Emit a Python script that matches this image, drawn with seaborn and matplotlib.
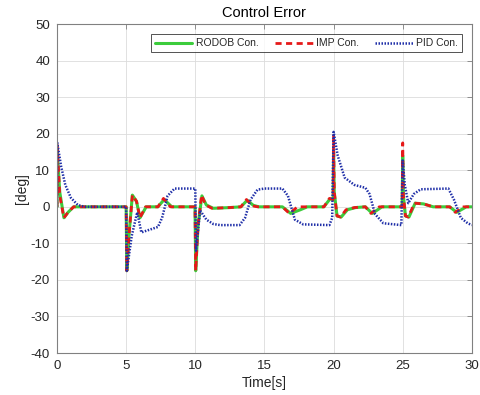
import matplotlib
matplotlib.use("Agg")
import matplotlib.pyplot as plt
import seaborn as sns
import pandas as pd

# ---- data ----
t_rodob = [0, 0.02, 0.2, 0.5, 0.8, 1.2, 5.0, 5.05, 5.2, 5.45, 5.75, 6.0, 6.45, 7.3, 7.75, 8.3,
           9.98, 10.03, 10.2, 10.48, 10.8, 11.3, 12.5, 13.3, 13.75, 14.2, 14.6,
           16.3, 16.9, 17.6, 18.1, 19.3, 19.75, 19.97, 20.0, 20.05, 20.25, 20.55, 21.0, 21.6,
           22.3, 22.8, 23.5, 24.96, 25.0, 25.05, 25.2, 25.45, 25.9, 26.5, 27.2, 28.4, 28.9, 29.6, 30.0]
v_rodob = [0, 15, 4, -3, -1.5, 0, 0, -17.5, -8, 3.2, 1.5, -3, 0, 0, 2.0, 0,
           0, -17.5, -5, 3.0, 0.5, -0.4, -0.2, 0, 1.8, 0.4, 0,
           0, -1.8, -0.8, 0, 0, 2.2, 2.0, 15, 4, -2.5, -2.8, -0.8, -0.2,
           0, -1.8, 0, 0, 14, 3, -2.5, -2.8, 1.0, 0.8, 0, 0, -1.5, 0, 0]

t_imp = [0, 0.02, 0.2, 0.5, 0.8, 1.2, 5.0, 5.05, 5.2, 5.45, 5.75, 6.0, 6.4, 7.3, 7.7, 8.2,
         9.98, 10.03, 10.2, 10.45, 10.75, 11.2, 12.5, 13.3, 13.7, 14.1, 14.5,
         16.3, 16.8, 17.4, 19.3, 19.7, 19.97, 20.0, 20.05, 20.25, 20.5, 20.9, 21.5,
         22.3, 22.7, 23.3, 24.96, 25.0, 25.05, 25.2, 25.4, 25.85, 26.5, 27.2, 28.4, 28.8, 29.4, 30.0]
v_imp = [0, 17.2, 3, -3, -1.5, 0, 0, -17.5, -8, 3.2, 1.5, -3, 0, 0, 2.3, 0,
         0, -17.5, -5, 3.2, 0.5, -0.4, -0.2, 0, 2.0, 0.3, 0,
         0, -1.8, 0, 0, 2.3, 2.0, 19.5, 4, -2.5, -2.8, -0.8, -0.2,
         0, -1.8, 0, 0, 17.5, 3, -2.5, -2.8, 1.0, 0.8, 0, 0, -1.5, 0, 0]

t_pid = [0, 0.02, 0.3, 0.6, 1.0, 1.5, 2.0, 5.0, 5.05, 5.4, 5.8, 6.1, 6.5, 7.3, 7.6, 8.0, 8.5, 9.9,
         10.0, 10.05, 10.35, 10.8, 11.3, 11.8, 13.2, 13.6, 14.0, 14.5, 15.0, 16.3, 16.7, 17.2, 17.8,
         19.7, 19.9, 20.0, 20.3, 20.8, 21.5, 22.3, 22.6, 23.0, 23.6, 24.9,
         25.0, 25.15, 25.4, 25.8, 26.3, 28.3, 28.7, 29.2, 29.7, 30.0]
v_pid = [0, 17.5, 11, 6, 2.5, 0.5, 0, 0, -17.5, -8, -1.5, -7, -6.5, -5.5, -3, 3, 5, 5,
         5, -12, -1, -3.5, -4.7, -5, -5, -3, 2, 4.7, 5, 5, 3, -3.5, -4.8,
         -5, -3, 20.5, 14, 8, 6, 5.2, 3.5, -2, -4.5, -5,
         12.7, 6, 1, 3.5, 4.8, 5, 2, -3, -4.5, -5]

labels = ["RODOB Con.", "IMP Con.", "PID Con."]

# ---- figure ----
sns.set_style("white")
plt.rcParams['font.family'] = ['Liberation Sans', 'DejaVu Sans']
plt.rcParams['axes.unicode_minus'] = False
axc = '#262626'

fig = plt.figure(figsize=(4.81, 3.95), dpi=100)
ax = fig.add_axes([0.1185, 0.1063, 0.8625, 0.8327])

df_r = pd.DataFrame({"t": t_rodob, "v": v_rodob})
df_i = pd.DataFrame({"t": t_imp, "v": v_imp})
df_p = pd.DataFrame({"t": t_pid, "v": v_pid})

sns.lineplot(data=df_r, x="t", y="v", ax=ax, color="#3ccc3c", lw=2.2, label=labels[0],
             estimator=None, sort=False)
sns.lineplot(data=df_i, x="t", y="v", ax=ax, color="#e61919", lw=2.0, label=labels[1],
             estimator=None, sort=False, linestyle=(0, (2.2, 1.6)))
sns.lineplot(data=df_p, x="t", y="v", ax=ax, color="#1f2fa8", lw=1.8, label=labels[2],
             estimator=None, sort=False, linestyle=(0, (0.6, 0.6)))

ax.set_xlim(0, 30)
ax.set_ylim(-40, 50)
ax.set_xticks(range(0, 31, 5))
ax.set_yticks(range(-40, 51, 10))
ax.grid(True, color='#dcdcdc', lw=0.6)
ax.set_axisbelow(True)
for s in ax.spines.values():
    s.set_color('#808080')
    s.set_linewidth(0.8)
ax.tick_params(direction='in', length=3.5, width=0.6, colors='#808080',
               labelcolor=axc, labelsize=9.5, top=True, right=True)
ax.tick_params(axis='x', pad=5)
ax.tick_params(axis='y', pad=5)

ax.set_title("Control Error", fontsize=10.5, color='black', pad=5)
ax.set_xlabel("Time[s]", fontsize=10, color=axc, labelpad=3)
ax.set_ylabel("[deg]", fontsize=10, color=axc, labelpad=1)

leg = ax.legend(loc='upper right', ncol=3, fontsize=7.5, frameon=True, fancybox=False,
                handlelength=3.6, handletextpad=0.3, columnspacing=1.6,
                borderpad=0.4, borderaxespad=0.95)
leg.get_frame().set_edgecolor(axc)
leg.get_frame().set_linewidth(0.7)

fig.savefig("out.png", dpi=100)
